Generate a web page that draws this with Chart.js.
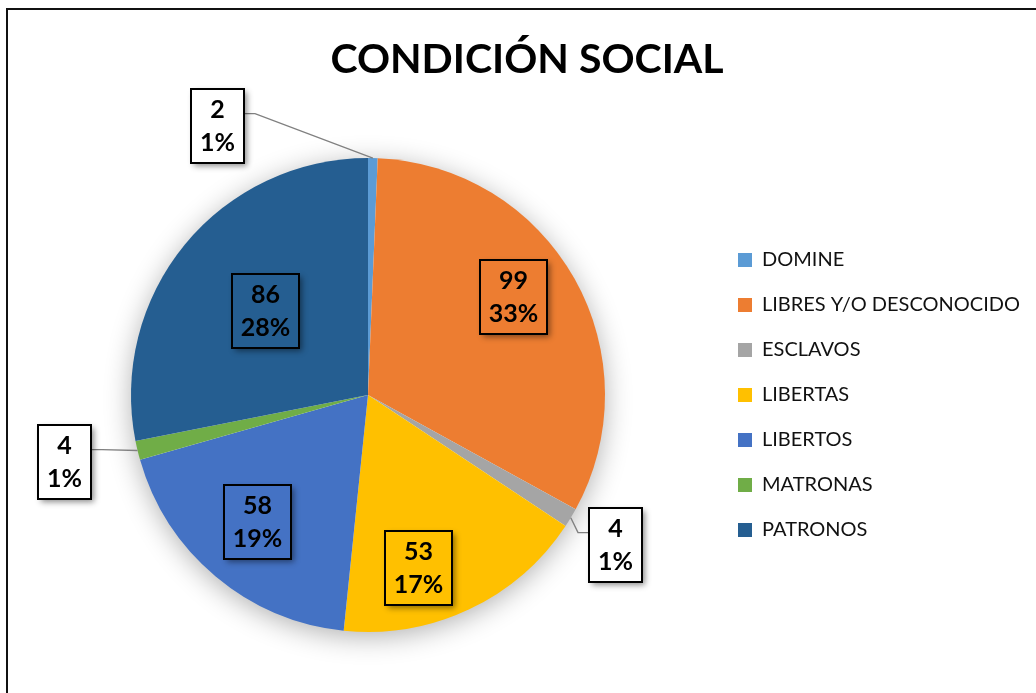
<!DOCTYPE html>
<html>
<head>
<meta charset="utf-8">
<script src="https://cdn.jsdelivr.net/npm/chart.js@4.4.1/dist/chart.umd.min.js"></script>
<style>
  html, body { margin: 0; background: #fff; overflow: hidden; }
  #frame { position: absolute; left: 6px; top: 8px; width: 1100px; height: 800px; border-left: 2px solid #111; border-top: 2px solid #111; }
  #chart { position: absolute; left: 0; top: 0; }
</style>
</head>
<body>
<div id="frame"></div>
<canvas id="chart" width="1036" height="693"></canvas>
<script>
const categories = ['DOMINE', 'LIBRES Y/O DESCONOCIDO', 'ESCLAVOS', 'LIBERTAS', 'LIBERTOS', 'MATRONAS', 'PATRONOS']
const counts = [2, 99, 4, 53, 58, 4, 86]
const percentLabels = ['1%', '33%', '1%', '17%', '19%', '1%', '28%']
const sliceColors = ['#5B9BD5', '#ED7D31', '#A5A5A5', '#FFC000', '#4472C4', '#70AD47', '#255E91']
const chartTitle = 'CONDICIÓN SOCIAL'

// where each value box sits: fraction of the radius, nudge off the slice middle (deg), outside = white box + leader line
const labelPlacement = [
  { r: 1.30, shift: -30.5, outside: true },
  { r: 0.74, shift: -4.4 },
  { r: 1.22, shift: 0, outside: true },
  { r: 0.76, shift: 9 },
  { r: 0.71, shift: 1 },
  { r: 1.31, shift: 1, outside: true },
  { r: 0.56, shift: 0 }
]

const FONT = 'Lato, "Open Sans", sans-serif'

const pieShadow = {
  id: 'pieShadow',
  beforeDatasetsDraw (chart) {
    const arc = chart.getDatasetMeta(0).data[0]
    if (!arc) return
    const { x, y, outerRadius } = arc.getProps(['x', 'y', 'outerRadius'], true)
    const ctx = chart.ctx
    ctx.save()
    ctx.shadowColor = 'rgba(0,0,0,0.32)'
    ctx.shadowBlur = 28
    ctx.shadowOffsetY = 5
    ctx.beginPath()
    ctx.arc(x, y, outerRadius - 1, 0, Math.PI * 2)
    ctx.fillStyle = '#fff'
    ctx.fill()
    ctx.restore()
  }
}

const valueBoxes = {
  id: 'valueBoxes',
  afterDatasetsDraw (chart) {
    const ctx = chart.ctx
    const meta = chart.getDatasetMeta(0)
    ctx.save()
    ctx.font = 'bold 25px ' + FONT
    meta.data.forEach((arc, i) => {
      const { x, y, startAngle, endAngle, outerRadius } =
        arc.getProps(['x', 'y', 'startAngle', 'endAngle', 'outerRadius'], true)
      const place = labelPlacement[i]
      const mid = (startAngle + endAngle) / 2
      const a = mid + place.shift * Math.PI / 180
      const cx = x + Math.cos(a) * outerRadius * place.r
      const cy = y + Math.sin(a) * outerRadius * place.r
      const lines = [String(counts[i]), percentLabels[i]]
      const w = Math.round(Math.max(...lines.map(t => ctx.measureText(t).width)) + 18)
      const h = 74
      const left = Math.round(cx - w / 2)
      const top = Math.round(cy - h / 2)

      if (place.outside) {
        const toRight = cx > x
        const side = toRight ? left : left + w
        const ay = top + h / 3
        ctx.beginPath()
        ctx.moveTo(x + Math.cos(mid) * outerRadius, y + Math.sin(mid) * outerRadius)
        ctx.lineTo(side + (toRight ? -11 : 11), ay)
        ctx.lineTo(side, ay)
        ctx.strokeStyle = '#808080'
        ctx.lineWidth = 1.4
        ctx.stroke()
      }

      ctx.save()
      ctx.shadowColor = 'rgba(0,0,0,0.45)'
      ctx.shadowBlur = 6
      ctx.shadowOffsetX = 3
      ctx.shadowOffsetY = 3
      ctx.fillStyle = place.outside ? '#fff' : sliceColors[i]
      ctx.fillRect(left, top, w, h)
      ctx.restore()
      ctx.strokeStyle = '#000'
      ctx.lineWidth = 2
      ctx.strokeRect(left, top, w, h)

      ctx.fillStyle = '#000'
      ctx.textAlign = 'center'
      ctx.textBaseline = 'middle'
      ctx.fillText(lines[0], left + w / 2, top + h / 2 - 16)
      ctx.fillText(lines[1], left + w / 2, top + h / 2 + 17)
    })
    ctx.restore()
  }
}

// Excel centres the title over the whole frame, not over the plot + legend boxes
const frameTitle = {
  id: 'frameTitle',
  afterDraw (chart) {
    const ctx = chart.ctx
    ctx.save()
    ctx.font = 'bold 41px ' + FONT
    ctx.fillStyle = '#000'
    ctx.textAlign = 'center'
    ctx.textBaseline = 'middle'
    ctx.fillText(chartTitle, 527, 60)
    ctx.restore()
  }
}

new Chart(document.getElementById('chart'), {
  type: 'pie',
  data: {
    labels: categories,
    datasets: [{
      data: counts,
      backgroundColor: sliceColors,
      borderWidth: 0,
      hoverOffset: 0
    }]
  },
  options: {
    responsive: false,
    animation: false,
    events: [],
    layout: {
      padding: { top: 158, bottom: 61, left: 23, right: 6 }
    },
    plugins: {
      title: { display: false },
      tooltip: { enabled: false },
      legend: {
        position: 'right',
        align: 'center',
        labels: {
          boxWidth: 14,
          boxHeight: 14,
          padding: 25,
          color: '#111',
          font: { family: FONT, size: 20 }
        }
      }
    }
  },
  plugins: [pieShadow, valueBoxes, frameTitle]
})
</script>
</body>
</html>
